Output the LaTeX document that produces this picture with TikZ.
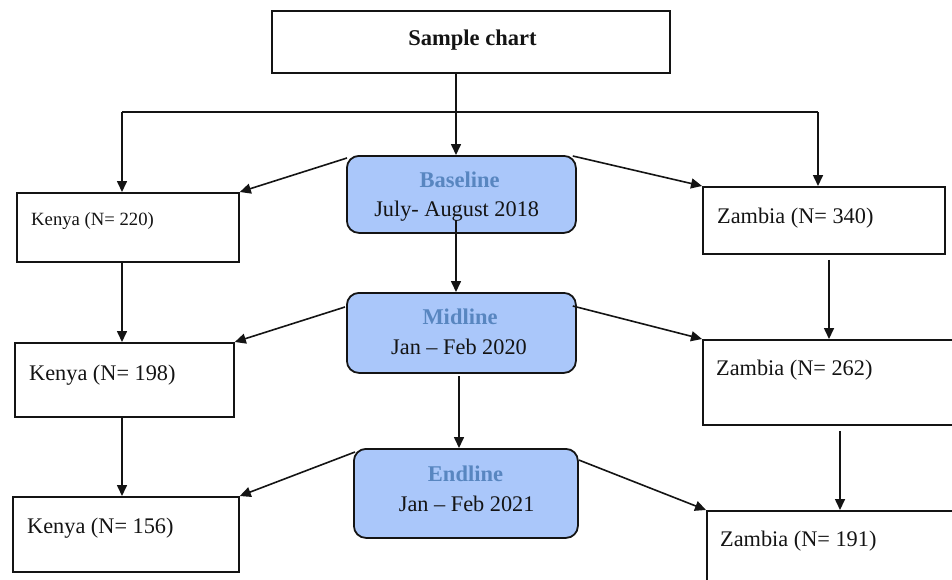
\documentclass[tikz,border=0pt]{standalone}
\usepackage{fontspec}
\setmainfont{Liberation Serif}
\usetikzlibrary{arrows.meta,calc}
\definecolor{phasefill}{RGB}{170,199,250}
\definecolor{phasetitle}{RGB}{88,134,192}
\definecolor{ink}{RGB}{20,20,20}
\begin{document}
\begin{tikzpicture}[x=1pt,y=-1pt,
  box/.style={draw=ink, line width=1.8pt, rectangle, inner sep=0pt, anchor=north west},
  phase/.style={box, fill=phasefill, rounded corners=12pt},
  maintxt/.style={inner sep=0pt, font=\fontsize{22.3pt}{26pt}\selectfont, text=ink},
  smalltxt/.style={inner sep=0pt, font=\fontsize{18.7pt}{22pt}\selectfont, text=ink},
  titletxt/.style={inner sep=0pt, font=\fontsize{22.5pt}{26pt}\selectfont\bfseries, text=ink},
  phasetxt/.style={inner sep=0pt, font=\fontsize{22.5pt}{26pt}\selectfont\bfseries, text=phasetitle},
  ln/.style={draw=ink, line width=1.6pt},
  arr/.style={ln, -{Triangle[length=11pt,width=10pt]}}]
\useasboundingbox (0,0) rectangle (952,579);
\fill[white] (0,0) rectangle (952,579);

% boxes
\node[box, minimum width=398pt, minimum height=62pt] (top) at (271,10) {};
\node[phase, minimum width=229pt, minimum height=77pt] (b) at (346,155) {};
\node[phase, minimum width=229pt, minimum height=80pt] (m) at (346,292) {};
\node[phase, minimum width=224pt, minimum height=89pt] (e) at (353,448) {};
\node[box, minimum width=222pt, minimum height=69pt] (k1) at (16,192) {};
\node[box, minimum width=219pt, minimum height=74pt] (k2) at (14,342) {};
\node[box, minimum width=226pt, minimum height=75pt] (k3) at (12,496) {};
\node[box, minimum width=242pt, minimum height=67pt] (z1) at (702,186) {};
\node[box, minimum width=262pt, minimum height=85pt] (z2) at (702,339) {};
\node[box, minimum width=262pt, minimum height=85pt] (z3) at (706,510) {};

% texts
\node[titletxt, anchor=base] (toptxt) at (472.5,45) {Sample chart};
\node[phasetxt, anchor=base] (bt) at (459.7,187) {Baseline};
\node[maintxt, anchor=base] (bd) at (456.7,216.7) {July- August 2018};
\node[phasetxt, anchor=base] (mt) at (460,324.3) {Midline};
\node[maintxt, anchor=base] (md) at (459,354) {Jan – Feb 2020};
\node[phasetxt, anchor=base] (et) at (465.5,481.7) {Endline};
\node[maintxt, anchor=base] (ed) at (466.7,511.7) {Jan – Feb 2021};
\node[smalltxt, anchor=base west] (k1t) at (31,225) {Kenya (N= 220)};
\node[maintxt, anchor=base west] (k2t) at (29,380) {Kenya (N= 198)};
\node[maintxt, anchor=base west] (k3t) at (27,533) {Kenya (N= 156)};
\node[maintxt, anchor=base west] (z1t) at (717,223) {Zambia (N= 340)};
\node[maintxt, anchor=base west] (z2t) at (716,375) {Zambia (N= 262)};
\node[maintxt, anchor=base west] (z3t) at (720,546) {Zambia (N= 191)};

% connectors
\coordinate (j) at (456,112);
\coordinate (jl) at (122,112);
\coordinate (jr) at (818,112);
\coordinate (zx1) at (829,0);
\coordinate (zx2) at (840,0);
\coordinate (cb) at (456,220);
\coordinate (cm) at (459,376);

\draw[ln] (top.south -| j) -- (j);
\draw[arr] (j) -- (j |- b.north);
\draw[ln] (jl) -- (jr);
\draw[arr] (jl) -- (jl |- k1.north);
\draw[arr] (jr) -- (jr |- z1.north);

\draw[arr] ($(b.north west)+(1,3)$) -- (k1.north east);
\draw[arr] ($(b.north east)+(-4,1)$) -- (z1.north west);
\draw[arr] (cb) -- (cb |- m.north);

\draw[arr] ($(m.north west)+(-1,15)$) -- (k2.north east);
\draw[arr] ($(m.north east)+(-4,14)$) -- (z2.north west);
\draw[arr] (cm) -- (cm |- e.north);

\draw[arr] ($(e.north west)+(2,4)$) -- (k3.north east);
\draw[arr] ($(e.north east)+(0,12)$) -- (z3.north west);

\draw[arr] (k1.south -| jl) -- (k2.north -| jl);
\draw[arr] (k2.south -| jl) -- (k3.north -| jl);
\draw[arr] ($(z1.south -| zx1)+(0,5)$) -- (z2.north -| zx1);
\draw[arr] ($(z2.south -| zx2)+(0,5)$) -- (z3.north -| zx2);
\end{tikzpicture}
\end{document}
